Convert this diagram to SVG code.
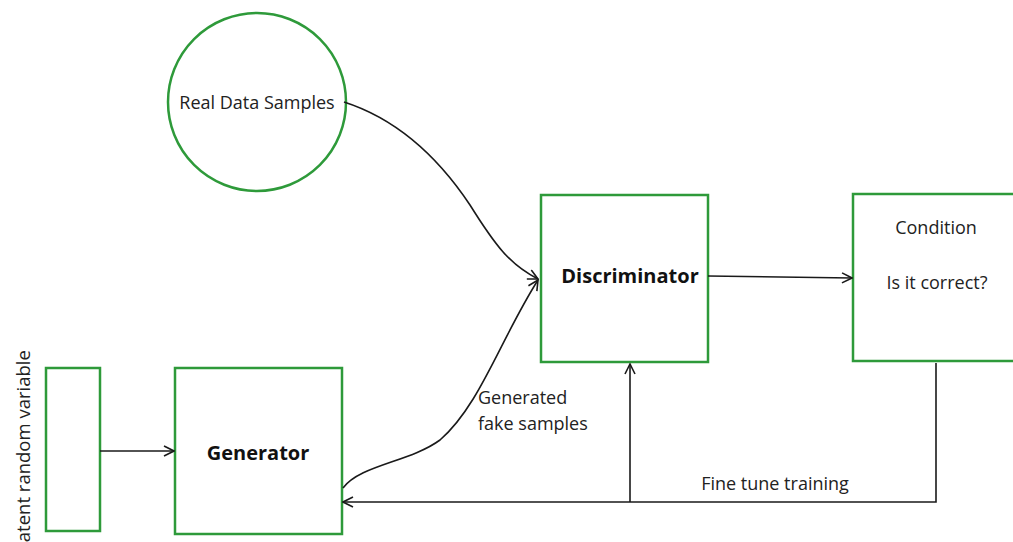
<svg xmlns="http://www.w3.org/2000/svg" width="1013" height="542" viewBox="0 0 1013 542">
<style>
.box{fill:none;stroke:#2e9a3a;stroke-width:2.5}
.ln{fill:none;stroke:#1a1a1a;stroke-width:1.6}
.t{font-family:"Open Sans","Liberation Sans",sans-serif;font-size:18px;fill:#222}
.b{font-family:"Open Sans","Liberation Sans",sans-serif;font-size:20px;font-weight:bold;fill:#111}
</style>
<defs>
<marker id="ah" viewBox="0 0 12 12" refX="11" refY="6" markerWidth="12" markerHeight="12" markerUnits="userSpaceOnUse" orient="auto">
<path d="M1,1 L11,6 L1,11" fill="none" stroke="#1a1a1a" stroke-width="1.6"/>
</marker>
</defs>
<rect width="1013" height="542" fill="#fff"/>
<g id="latent">
<rect class="box" x="46" y="368" width="54" height="163"/>
<text class="t" style="font-size:18.5px" transform="translate(30,451) rotate(-90)" text-anchor="middle">Latent random variable</text>
</g>
<g id="generator">
<rect class="box" x="175" y="368" width="167" height="166"/>
<text class="b" x="258" y="460" text-anchor="middle">Generator</text>
</g>
<g id="real">
<circle class="box" cx="257" cy="102" r="89"/>
<text class="t" x="257" y="109" text-anchor="middle">Real Data Samples</text>
</g>
<g id="discriminator">
<rect class="box" x="541" y="195" width="167" height="167"/>
<text class="b" x="630" y="283" text-anchor="middle">Discriminator</text>
</g>
<g id="condition">
<rect class="box" x="853" y="194" width="165" height="167"/>
<text class="t" x="936" y="234" text-anchor="middle">Condition</text>
<text class="t" x="937" y="289" text-anchor="middle">Is it correct?</text>
</g>
<g id="connectors">
<path class="ln" d="M100,451 L174,451" marker-end="url(#ah)"/>
<path class="ln" d="M344,102 C400,120 440,160 470,205 C495,245 510,265 538,279" marker-end="url(#ah)"/>
<path class="ln" d="M343,488 C360,465 410,462 440,440 C480,405 500,340 538,280" marker-end="url(#ah)"/>
<path class="ln" d="M708,276 L852,278" marker-end="url(#ah)"/>
<path class="ln" d="M936,363 L936,502 L343,502" marker-end="url(#ah)"/>
<path class="ln" d="M630,502 L630,364" marker-end="url(#ah)"/>
</g>
<g id="labels">
<text class="t" x="478" y="404">Generated</text>
<text class="t" x="478" y="430">fake samples</text>
<text class="t" x="775" y="490" text-anchor="middle">Fine tune training</text>
</g>
</svg>
